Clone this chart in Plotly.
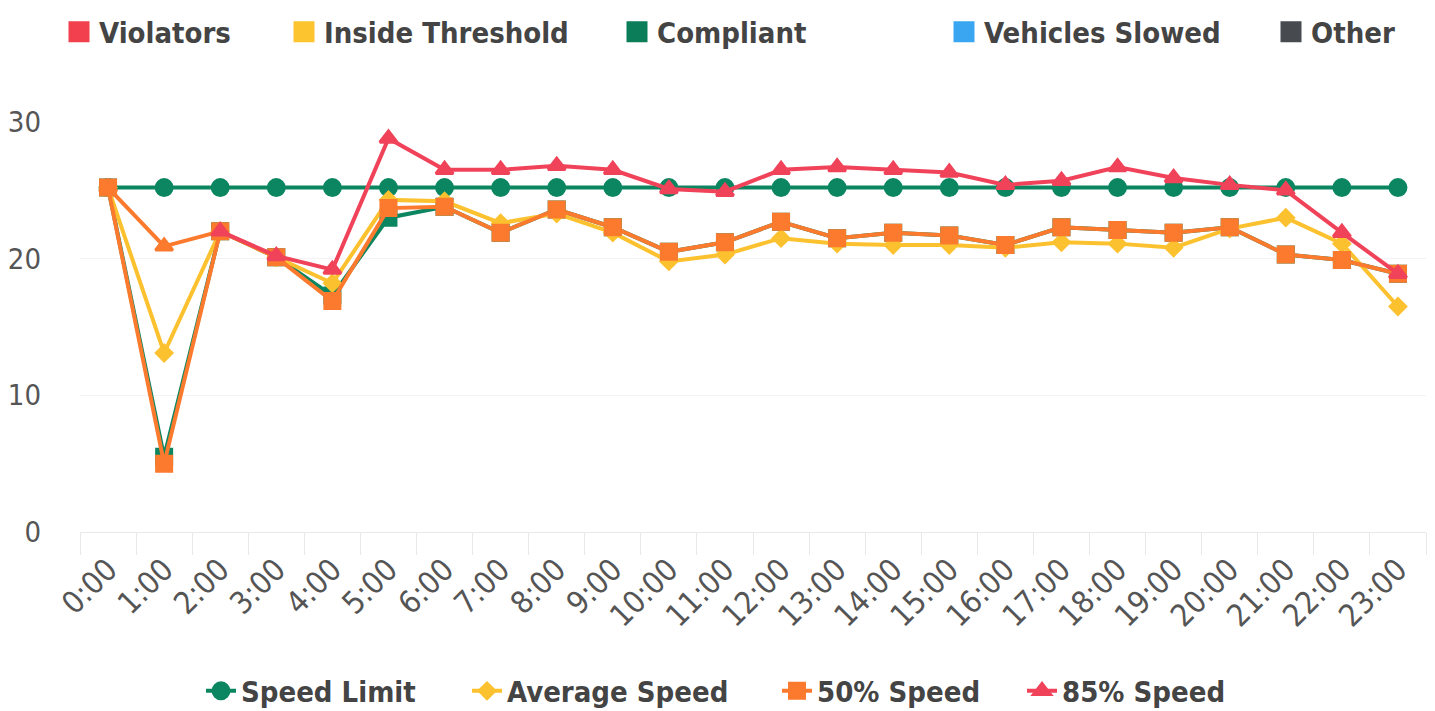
import plotly.graph_objects as go

hours = [f"{h}:00" for h in range(24)]

speed_limit = [25.2] * 24
average_speed = [25.2, 13.1, 22.0, 20.1, 18.2, 24.3, 24.2, 22.6, 23.3, 21.9, 19.8, 20.3,
                 21.5, 21.1, 21.0, 21.0, 20.8, 21.2, 21.1, 20.8, 22.2, 23.0, 21.1, 16.5]
speed_50 = [25.2, 5.0, 22.0, 20.1, 16.9, 23.7, 23.8, 21.9, 23.6, 22.3, 20.5, 21.2,
            22.7, 21.5, 21.9, 21.7, 21.0, 22.3, 22.1, 21.9, 22.3, 20.3, 19.9, 18.9]
speed_85 = [25.2, 20.9, 22.0, 20.2, 19.2, 28.8, 26.5, 26.5, 26.8, 26.5, 25.1, 24.9,
            26.5, 26.7, 26.5, 26.3, 25.4, 25.7, 26.7, 25.9, 25.4, 25.0, 21.9, 18.9]
# faint underlying green trace visible beneath the 50% line in the early hours
compliant_shadow = [25.2, 5.5, 22.0, 20.1, 17.3, 23.0, 23.8, 21.9, 23.6, 22.3, 20.5, 21.2,
                    22.7, 21.5, 21.9, 21.7, 21.0, 22.3, 22.1, 21.9, 22.3, 20.3, 19.9, 18.9]
# in the reference the first hours of the 85% line are drawn in orange
speed_85_orange_until = 3

bar_series = ["Violators", "Inside Threshold", "Compliant", "Vehicles Slowed", "Other"]
bar_colors = ["#f2404f", "#fcc42e", "#0b7d58", "#3aa6f2", "#474b50"]

# The page body has an 8px margin, so the figure is drawn 8px smaller and
# all target positions (page pixels) are shifted by that offset.
OFF = 8
W, H = 1435 - OFF, 711 - OFF
PLOT_LEFT, PLOT_RIGHT, PLOT_TOP, PLOT_BOTTOM = 80, 1426, 122, 532  # page pixels
L = PLOT_LEFT - OFF
R = W - (PLOT_RIGHT - OFF)
T = PLOT_TOP - OFF
B = H - (PLOT_BOTTOM - OFF)
PW = W - L - R
PH = H - T - B


def px_x(px):
    return (px - OFF - L) / PW


def px_y(py):
    return (H - B - (py - OFF)) / PH


GREEN, YELLOW, ORANGE, RED = "#0b8660", "#fcc12f", "#fb7a2e", "#f0435a"

fig = go.Figure()

# top legend entries (series with no drawn marks)
top_text_x = [100, 325, 658, 985, 1312]
for i, (name, col) in enumerate(zip(bar_series, bar_colors)):
    fig.add_trace(go.Scatter(
        x=[None], y=[None], mode="markers", name=name,
        marker=dict(symbol="square", size=16, color=col, line=dict(width=5, color=col)),
        legend=f"legend{i + 1}" if i > 0 else "legend",
        hoverinfo="skip",
    ))

bottom_text_x = [242, 508, 818, 1063]

fig.add_trace(go.Scatter(
    x=hours, y=speed_limit, mode="lines+markers", name="Speed Limit",
    line=dict(color=GREEN, width=4),
    marker=dict(symbol="circle", size=16, color=GREEN, line=dict(width=3, color=GREEN)),
    legend="legend6",
))
fig.add_trace(go.Scatter(
    x=hours, y=compliant_shadow, mode="lines+markers", showlegend=False,
    line=dict(color=GREEN, width=4),
    marker=dict(symbol="square", size=15, color=GREEN, line=dict(width=3, color=GREEN)),
))
fig.add_trace(go.Scatter(
    x=hours, y=average_speed, mode="lines+markers", name="Average Speed",
    line=dict(color=YELLOW, width=4),
    marker=dict(symbol="diamond", size=12, color=YELLOW, line=dict(width=3, color=YELLOW)),
    legend="legend7",
))
fig.add_trace(go.Scatter(
    x=hours[:speed_85_orange_until], y=speed_85[:speed_85_orange_until],
    mode="lines+markers", showlegend=False,
    line=dict(color=ORANGE, width=4),
    marker=dict(symbol="triangle-up", size=15, color=ORANGE, line=dict(width=3, color=ORANGE)),
))
fig.add_trace(go.Scatter(
    x=hours, y=speed_50, mode="lines+markers", name="50% Speed",
    line=dict(color=ORANGE, width=4),
    marker=dict(symbol="square", size=15, color=ORANGE, line=dict(width=3, color=ORANGE)),
    legend="legend8",
))
fig.add_trace(go.Scatter(
    x=hours[speed_85_orange_until - 1:], y=speed_85[speed_85_orange_until - 1:],
    mode="lines+markers", name="85% Speed",
    line=dict(color=RED, width=4),
    marker=dict(symbol="triangle-up", size=15, color=RED, line=dict(width=3, color=RED)),
    legend="legend9",
))

FONT = "DejaVu Sans Condensed, DejaVu Sans"
legend_font = dict(family=FONT, size=29, color="#444444", weight="bold")
layout_legends = {}
for i, tx in enumerate(top_text_x):
    key = "legend" if i == 0 else f"legend{i + 1}"
    layout_legends[key] = dict(
        x=px_x(tx - 41), y=px_y(32), xanchor="left", yanchor="middle",
        orientation="h", font=legend_font, bgcolor="rgba(0,0,0,0)",
        itemsizing="trace",
    )
for j, tx in enumerate(bottom_text_x):
    key = f"legend{6 + j}"
    layout_legends[key] = dict(
        x=px_x(tx - 41), y=px_y(691), xanchor="left", yanchor="middle",
        orientation="h", font=legend_font, bgcolor="rgba(0,0,0,0)",
        itemsizing="trace",
    )

fig.update_layout(
    width=W, height=H,
    margin=dict(l=L, r=R, t=T, b=B, autoexpand=False),
    paper_bgcolor="white", plot_bgcolor="white",
    showlegend=True,
    **layout_legends,
)

fig.update_xaxes(
    type="category", tickson="boundaries", range=[-0.5, 23.5],
    showgrid=False, showline=True, linecolor="#e8e8e8", linewidth=1,
    ticks="outside", ticklen=22, tickcolor="#e8e8e8",
    tickangle=-45, ticklabelstandoff=6,
    tickfont=dict(family=FONT, size=31, color="#555555"),
)
fig.update_yaxes(
    range=[0, 30], tickvals=[0, 10, 20, 30],
    showgrid=True, gridcolor="#f3f3f3", gridwidth=1,
    zeroline=True, zerolinecolor="#e8e8e8",
    ticks="", ticklabelstandoff=38,
    tickfont=dict(family=FONT, size=29, color="#555555"),
)

fig.write_html("out.html")
